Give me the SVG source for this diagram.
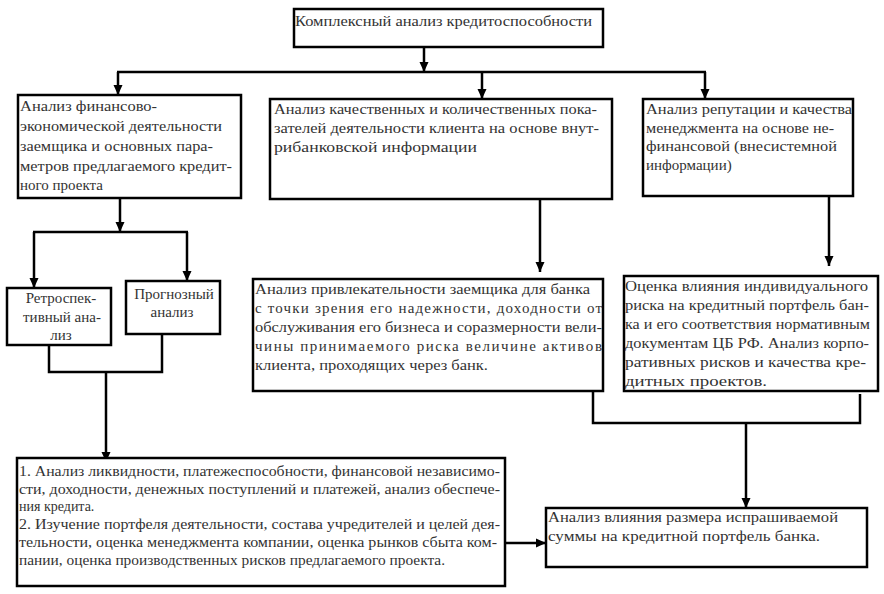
<svg xmlns="http://www.w3.org/2000/svg" width="884" height="594" viewBox="0 0 884 594">
<style>
.box{fill:#fff;stroke:#000;stroke-width:2.5}
.t{font-family:"Liberation Serif","DejaVu Serif",serif;font-size:15px;fill:#333}
.s{font-size:14px}
.c{text-anchor:middle}
.ln{fill:none;stroke:#000;stroke-width:2.5}
</style>
<defs>
<marker id="ah" viewBox="0 0 10 10" refX="10" refY="5" markerWidth="10" markerHeight="10" markerUnits="userSpaceOnUse" orient="auto">
<path d="M0,0.5 L10,5 L0,9.5 z" fill="#000"/>
</marker>
</defs>
<rect width="884" height="594" fill="#fff"/>
<g id="connectors">
<line class="ln" x1="424" y1="47" x2="424" y2="72" marker-end="url(#ah)"/>
<line class="ln" x1="117" y1="72" x2="706" y2="72"/>
<line class="ln" x1="118" y1="72" x2="118" y2="95" marker-end="url(#ah)"/>
<line class="ln" x1="482" y1="72" x2="482" y2="99" marker-end="url(#ah)"/>
<line class="ln" x1="705" y1="72" x2="705" y2="99" marker-end="url(#ah)"/>
<line class="ln" x1="120" y1="198" x2="120" y2="232" marker-end="url(#ah)"/>
<line class="ln" x1="33" y1="232" x2="188" y2="232"/>
<line class="ln" x1="34" y1="232" x2="34" y2="288" marker-end="url(#ah)"/>
<line class="ln" x1="187" y1="232" x2="187" y2="281" marker-end="url(#ah)"/>
<line class="ln" x1="540" y1="199" x2="540" y2="272" marker-end="url(#ah)"/>
<line class="ln" x1="829" y1="196" x2="829" y2="266" marker-end="url(#ah)"/>
<polyline class="ln" points="49,345 49,372 162,372 162,334"/>
<line class="ln" x1="106" y1="372" x2="106" y2="462" marker-end="url(#ah)"/>
<line class="ln" x1="505" y1="543" x2="546" y2="543" marker-end="url(#ah)"/>
<polyline class="ln" points="593,386 593,423 860,423 860,394"/>
<line class="ln" x1="746" y1="423" x2="746" y2="508" marker-end="url(#ah)"/>
</g>
<g id="n-top">
<rect class="box" x="294" y="9" width="309" height="38"/>
<text class="t" x="295" y="26" textLength="297" lengthAdjust="spacingAndGlyphs">Комплексный анализ кредитоспособности</text>
</g>
<g id="n-fin">
<rect class="box" x="18" y="95" width="223" height="103"/>
<text class="t" x="20" y="111" textLength="137" lengthAdjust="spacingAndGlyphs">Анализ финансово-</text>
<text class="t" x="20" y="131" textLength="202" lengthAdjust="spacingAndGlyphs">экономической деятельности</text>
<text class="t" x="20" y="151" textLength="193" lengthAdjust="spacingAndGlyphs">заемщика и основных пара-</text>
<text class="t" x="20" y="171" textLength="212" lengthAdjust="spacingAndGlyphs">метров предлагаемого кредит-</text>
<text class="t" x="20" y="190">ного проекта</text>
</g>
<g id="n-qual">
<rect class="box" x="270" y="99" width="342" height="100"/>
<text class="t" x="274" y="114" textLength="323" lengthAdjust="spacingAndGlyphs">Анализ качественных и количественных пока-</text>
<text class="t" x="274" y="133" textLength="325" lengthAdjust="spacingAndGlyphs">зателей деятельности клиента на основе внут-</text>
<text class="t" x="274" y="152" textLength="203" lengthAdjust="spacingAndGlyphs">рибанковской информации</text>
</g>
<g id="n-rep">
<rect class="box" x="643" y="99" width="210" height="97"/>
<text class="t" x="646" y="114" textLength="206" lengthAdjust="spacingAndGlyphs">Анализ репутации и качества</text>
<text class="t" x="646" y="133" textLength="188" lengthAdjust="spacingAndGlyphs">менеджмента на основе не-</text>
<text class="t" x="646" y="151" textLength="191" lengthAdjust="spacingAndGlyphs">финансовой (внесистемной</text>
<text class="t" x="646" y="170">информации)</text>
</g>
<g id="n-retro">
<rect class="box" x="7" y="288" width="104" height="57"/>
<text class="t c" x="61" y="303">Ретроспек-</text>
<text class="t c" x="62" y="322">тивный ана-</text>
<text class="t c" x="61" y="340">лиз</text>
</g>
<g id="n-prog">
<rect class="box" x="126" y="281" width="94" height="53"/>
<text class="t c" x="174" y="299">Прогнозный</text>
<text class="t c" x="172" y="317">анализ</text>
</g>
<g id="n-attr">
<rect class="box" x="253" y="279" width="350" height="112"/>
<text class="t" x="255" y="294" textLength="335" lengthAdjust="spacingAndGlyphs">Анализ привлекательности заемщика для банка</text>
<text class="t" x="255" y="313" textLength="347" lengthAdjust="spacing">с точки зрения его надежности, доходности от</text>
<text class="t" x="255" y="332" textLength="347" lengthAdjust="spacingAndGlyphs">обслуживания его бизнеса и соразмерности вели-</text>
<text class="t" x="255" y="351" textLength="347" lengthAdjust="spacing">чины принимаемого риска величине активов</text>
<text class="t" x="255" y="370" textLength="233" lengthAdjust="spacingAndGlyphs">клиента, проходящих через банк.</text>
</g>
<g id="n-risk">
<rect class="box" x="624" y="276" width="254" height="115"/>
<text class="t" x="625" y="291" textLength="243" lengthAdjust="spacingAndGlyphs">Оценка влияния индивидуального</text>
<text class="t" x="625" y="310" textLength="244" lengthAdjust="spacingAndGlyphs">риска на кредитный портфель бан-</text>
<text class="t" x="625" y="329" textLength="245" lengthAdjust="spacingAndGlyphs">ка и его соответствия нормативным</text>
<text class="t" x="625" y="348" textLength="244" lengthAdjust="spacingAndGlyphs">документам ЦБ РФ. Анализ корпо-</text>
<text class="t" x="625" y="367" textLength="241" lengthAdjust="spacingAndGlyphs">ративных рисков и качества кре-</text>
<text class="t" x="625" y="386" textLength="142" lengthAdjust="spacingAndGlyphs">дитных проектов.</text>
</g>
<g id="n-list">
<rect class="box" x="17" y="458" width="488" height="128"/>
<text class="t s" x="19" y="476" textLength="481" lengthAdjust="spacingAndGlyphs">1. Анализ ликвидности, платежеспособности, финансовой независимо-</text>
<text class="t s" x="19" y="494" textLength="481" lengthAdjust="spacingAndGlyphs">сти, доходности, денежных поступлений и платежей, анализ обеспече-</text>
<text class="t s" x="19" y="511">ния кредита.</text>
<text class="t s" x="19" y="529" textLength="481" lengthAdjust="spacingAndGlyphs">2. Изучение портфеля деятельности, состава учредителей и целей дея-</text>
<text class="t s" x="19" y="547" textLength="478" lengthAdjust="spacingAndGlyphs">тельности, оценка менеджмента компании, оценка рынков сбыта ком-</text>
<text class="t s" x="19" y="565" textLength="426" lengthAdjust="spacingAndGlyphs">пании, оценка производственных рисков предлагаемого проекта.</text>
</g>
<g id="n-size">
<rect class="box" x="546" y="508" width="321" height="59"/>
<text class="t" x="548" y="522" textLength="290" lengthAdjust="spacingAndGlyphs">Анализ влияния размера испрашиваемой</text>
<text class="t" x="548" y="541" textLength="272" lengthAdjust="spacingAndGlyphs">суммы на кредитной портфель банка.</text>
</g>
</svg>
